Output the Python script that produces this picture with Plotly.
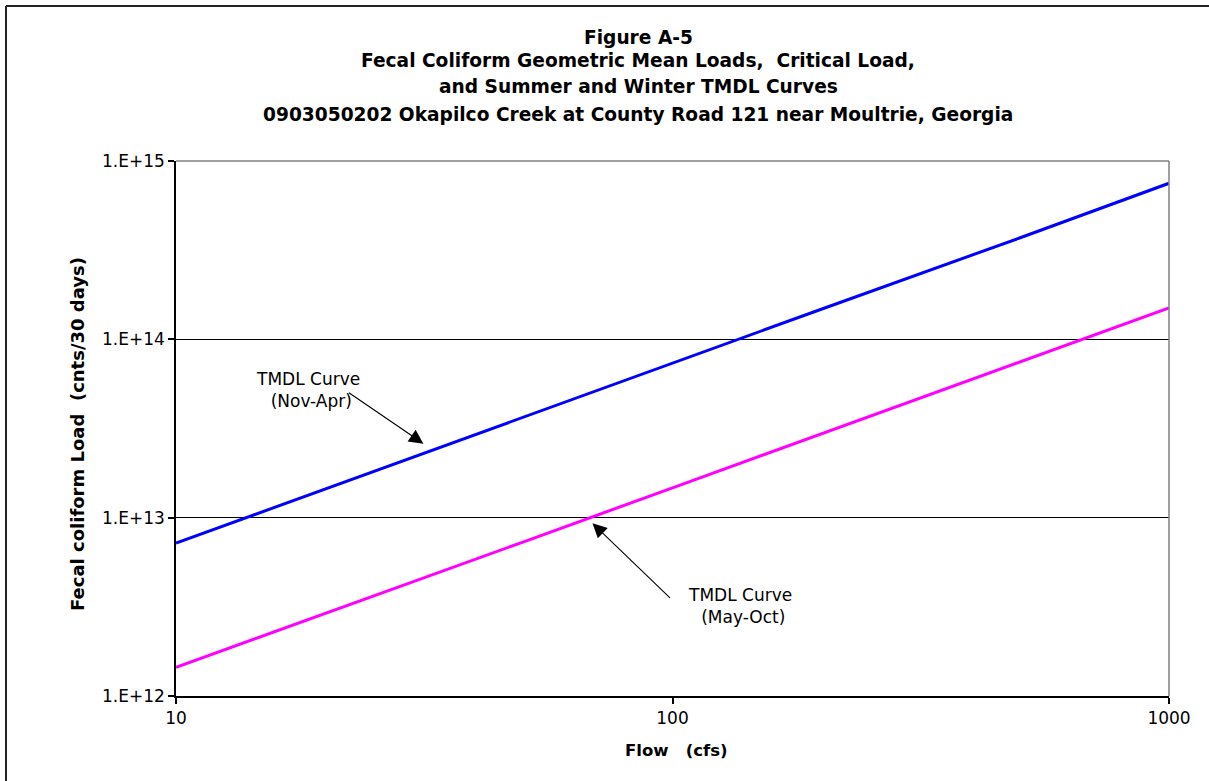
import math
import plotly.graph_objects as go

# ---- data ----
flow_cfs = [10, 20, 50, 100, 200, 500, 1000]
winter_load = [7.2e12, 1.45e13, 3.65e13, 7.35e13, 1.48e14, 3.7e14, 7.5e14]   # TMDL Curve (Nov-Apr)
summer_load = [1.45e12, 2.9e12, 7.3e12, 1.47e13, 2.95e13, 7.4e13, 1.5e14]    # TMDL Curve (May-Oct)

x_tickvals = [10, 100, 1000]
x_ticktext = ["10", "100", "1000"]
y_tickvals = [1e12, 1e13, 1e14, 1e15]
y_ticktext = ["1.E+12", "1.E+13", "1.E+14", "1.E+15"]

title_lines = [
    "Figure A-5",
    "Fecal Coliform Geometric Mean Loads,\u00a0\u00a0Critical Load,",
    "and Summer and Winter TMDL Curves",
    "0903050202 Okapilco Creek at County Road 121 near Moultrie, Georgia",
]
x_title = "Flow\u00a0\u00a0\u00a0(cfs)"
y_title = "Fecal coliform Load\u00a0\u00a0(cnts/30 days)"
label_winter = "TMDL Curve<br>\u00a0(Nov-Apr)"
label_summer = "TMDL Curve<br>\u00a0(May-Oct)"

W, H = 1209, 781
L, R, T, B = 176, 40, 161, 85
PW, PH = W - L - R, H - T - B

def px(x):
    return (x - L) / PW

def py(y):
    return (H - B - y) / PH

FONT = "DejaVu Sans, Verdana, sans-serif"

fig = go.Figure()
fig.add_trace(go.Scatter(x=flow_cfs, y=winter_load, mode="lines",
                         line=dict(color="#0000ff", width=3), name="TMDL Curve (Nov-Apr)"))
fig.add_trace(go.Scatter(x=flow_cfs, y=summer_load, mode="lines",
                         line=dict(color="#ff00ff", width=3), name="TMDL Curve (May-Oct)"))

ann = []
title_y = [37, 61, 87, 114]
for t, yy in zip(title_lines, title_y):
    ann.append(dict(text="<b>%s</b>" % t, xref="paper", yref="paper", x=px(638), y=py(yy),
                    xanchor="center", yanchor="middle", showarrow=False,
                    font=dict(family=FONT, size=18.6, color="black")))
ann.append(dict(text="<b>%s</b>" % x_title, xref="paper", yref="paper", x=px(676), y=py(750),
                xanchor="center", yanchor="middle", showarrow=False,
                font=dict(family=FONT, size=16.5, color="black")))
ann.append(dict(text="<b>%s</b>" % y_title, xref="paper", yref="paper", x=px(77), y=py(434),
                xanchor="center", yanchor="middle", showarrow=False, textangle=-90,
                font=dict(family=FONT, size=18, color="black")))
# curve labels
ann.append(dict(text=label_winter, xref="paper", yref="paper", x=px(308), y=py(390),
                xanchor="center", yanchor="middle", showarrow=False, align="center",
                font=dict(family=FONT, size=17, color="black")))
ann.append(dict(text=label_summer, xref="paper", yref="paper", x=px(740), y=py(606),
                xanchor="center", yanchor="middle", showarrow=False, align="center",
                font=dict(family=FONT, size=17, color="black")))
# arrows (tip in data coordinates, log10 units)
ann.append(dict(text="", x=math.log10(31.5), y=math.log10(2.6e13), xref="x", yref="y",
                ax=-76, ay=-52, axref="pixel", ayref="pixel", showarrow=True,
                arrowhead=2, arrowsize=2.6, arrowwidth=1.1, arrowcolor="black"))
ann.append(dict(text="", x=math.log10(69), y=math.log10(9.3e12), xref="x", yref="y",
                ax=79, ay=76, axref="pixel", ayref="pixel", showarrow=True,
                arrowhead=2, arrowsize=2.6, arrowwidth=1.1, arrowcolor="black"))

shapes = [
    # outer chart border (top and left edges visible in the frame)
    dict(type="line", xref="paper", yref="paper", x0=px(6), x1=px(1209), y0=py(6), y1=py(6),
         line=dict(color="#222222", width=2), layer="above"),
    dict(type="line", xref="paper", yref="paper", x0=px(6), x1=px(6), y0=py(6), y1=py(781),
         line=dict(color="#222222", width=2), layer="above"),
    # plot area top/right border (gray)
    dict(type="line", xref="paper", yref="paper", x0=0, x1=1, y0=1, y1=1,
         line=dict(color="#808080", width=1.5)),
    dict(type="line", xref="paper", yref="paper", x0=1, x1=1, y0=0, y1=1,
         line=dict(color="#808080", width=1.5)),
]

fig.update_layout(
    width=W, height=H,
    margin=dict(l=L, r=R, t=T, b=B),
    paper_bgcolor="white", plot_bgcolor="white",
    showlegend=False,
    annotations=ann, shapes=shapes,
    font=dict(family=FONT, color="black"),
)
fig.update_xaxes(type="log", range=[1, 3], tickvals=x_tickvals, ticktext=x_ticktext,
                 showgrid=False, zeroline=False, showline=True, linecolor="black", linewidth=1.5,
                 ticks="outside", ticklen=6, tickcolor="black", tickwidth=1.5,
                 tickfont=dict(family=FONT, size=17, color="black"))
fig.update_yaxes(type="log", range=[12, 15], tickvals=y_tickvals, ticktext=y_ticktext,
                 showgrid=True, gridcolor="black", gridwidth=1.2, zeroline=False,
                 showline=True, linecolor="black", linewidth=1.5,
                 ticks="outside", ticklen=6, tickcolor="black", tickwidth=1.5,
                 tickfont=dict(family=FONT, size=17, color="black"))

fig.write_html("out.html", config={"displayModeBar": False},
               post_script="document.body.style.margin='0';document.body.style.overflow='hidden';")
